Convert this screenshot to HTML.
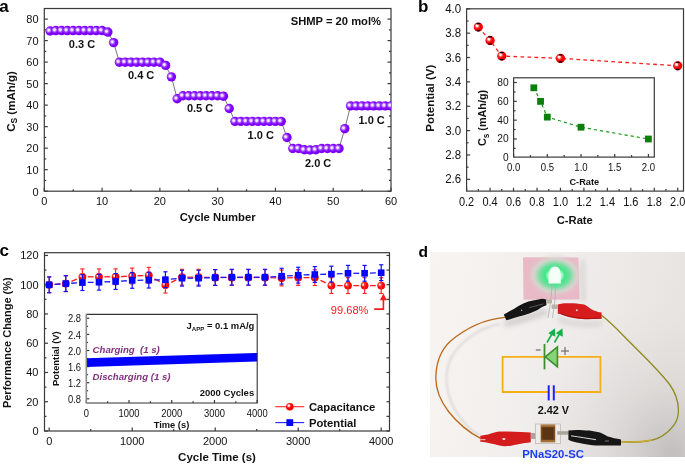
<!DOCTYPE html><html><head><meta charset="utf-8"><style>html,body{margin:0;padding:0;background:#fff;}svg{display:block;will-change:transform;font-family:"Liberation Sans",sans-serif;}</style></head><body>
<svg width="685" height="464" viewBox="0 0 685 464">
<defs><radialGradient id="gPurple" cx="0.37" cy="0.43" r="0.64" fx="0.35" fy="0.41"><stop offset="0" stop-color="#f8f0ff"/><stop offset="0.16" stop-color="#efdfff"/><stop offset="0.38" stop-color="#a048ff"/><stop offset="0.6" stop-color="#8000ff"/><stop offset="1" stop-color="#7800f4"/></radialGradient><radialGradient id="gRed" cx="0.38" cy="0.38" r="0.62" fx="0.36" fy="0.36"><stop offset="0" stop-color="#ffffff"/><stop offset="0.16" stop-color="#ffe8e8"/><stop offset="0.36" stop-color="#ff4040"/><stop offset="0.58" stop-color="#ff0000"/><stop offset="1" stop-color="#f00000"/></radialGradient><clipPath id="clipRB"><circle r="4.65"/></clipPath><g id="rbB"><circle r="4.65" fill="url(#gRed)"/><g clip-path="url(#clipRB)"><rect x="-1.9" y="-4.2" width="3.8" height="1.3" rx="0.6" fill="#000"/><rect x="-1.9" y="3.0" width="3.8" height="1.4" rx="0.6" fill="#000"/></g></g><linearGradient id="gPhoto" x1="0" y1="0" x2="1" y2="0.15"><stop offset="0" stop-color="#f8f4f1"/><stop offset="0.5" stop-color="#f0eeec"/><stop offset="1" stop-color="#e8e4e2"/></linearGradient><radialGradient id="gPhoto2" gradientUnits="userSpaceOnUse" cx="672" cy="452" r="150"><stop offset="0" stop-color="#bdbbb9" stop-opacity="0.9"/><stop offset="0.45" stop-color="#cfcdcb" stop-opacity="0.45"/><stop offset="1" stop-color="#dddbd9" stop-opacity="0"/></radialGradient><radialGradient id="gGlow" cx="0.5" cy="0.5" r="0.5"><stop offset="0" stop-color="#ffffff"/><stop offset="0.2" stop-color="#d8ffe8"/><stop offset="0.34" stop-color="#3fe888"/><stop offset="0.52" stop-color="#66e29a" stop-opacity="0.9"/><stop offset="0.75" stop-color="#cfe6d4" stop-opacity="0.55"/><stop offset="1" stop-color="#e8bac7" stop-opacity="0"/></radialGradient><filter id="fBlur1" x="-20%" y="-20%" width="140%" height="140%"><feGaussianBlur stdDeviation="0.8"/></filter><filter id="fBlur" x="-20%" y="-50%" width="140%" height="200%"><feGaussianBlur stdDeviation="2.5"/></filter><clipPath id="clipA"><rect x="44.3" y="8.5" width="346.7" height="182.7"/></clipPath></defs>
<rect width="685" height="464" fill="#fff"/>
<line x1="44.3" y1="191.2" x2="47.8" y2="191.2" stroke="#3a3a3a" stroke-width="1.2" />
<line x1="391" y1="191.2" x2="387.5" y2="191.2" stroke="#3a3a3a" stroke-width="1.2" />
<line x1="44.3" y1="180.44" x2="46.3" y2="180.44" stroke="#3a3a3a" stroke-width="1.2" />
<line x1="391" y1="180.44" x2="389" y2="180.44" stroke="#3a3a3a" stroke-width="1.2" />
<line x1="44.3" y1="169.69" x2="47.8" y2="169.69" stroke="#3a3a3a" stroke-width="1.2" />
<line x1="391" y1="169.69" x2="387.5" y2="169.69" stroke="#3a3a3a" stroke-width="1.2" />
<line x1="44.3" y1="158.93" x2="46.3" y2="158.93" stroke="#3a3a3a" stroke-width="1.2" />
<line x1="391" y1="158.93" x2="389" y2="158.93" stroke="#3a3a3a" stroke-width="1.2" />
<line x1="44.3" y1="148.17" x2="47.8" y2="148.17" stroke="#3a3a3a" stroke-width="1.2" />
<line x1="391" y1="148.17" x2="387.5" y2="148.17" stroke="#3a3a3a" stroke-width="1.2" />
<line x1="44.3" y1="137.41" x2="46.3" y2="137.41" stroke="#3a3a3a" stroke-width="1.2" />
<line x1="391" y1="137.41" x2="389" y2="137.41" stroke="#3a3a3a" stroke-width="1.2" />
<line x1="44.3" y1="126.65" x2="47.8" y2="126.65" stroke="#3a3a3a" stroke-width="1.2" />
<line x1="391" y1="126.65" x2="387.5" y2="126.65" stroke="#3a3a3a" stroke-width="1.2" />
<line x1="44.3" y1="115.9" x2="46.3" y2="115.9" stroke="#3a3a3a" stroke-width="1.2" />
<line x1="391" y1="115.9" x2="389" y2="115.9" stroke="#3a3a3a" stroke-width="1.2" />
<line x1="44.3" y1="105.14" x2="47.8" y2="105.14" stroke="#3a3a3a" stroke-width="1.2" />
<line x1="391" y1="105.14" x2="387.5" y2="105.14" stroke="#3a3a3a" stroke-width="1.2" />
<line x1="44.3" y1="94.38" x2="46.3" y2="94.38" stroke="#3a3a3a" stroke-width="1.2" />
<line x1="391" y1="94.38" x2="389" y2="94.38" stroke="#3a3a3a" stroke-width="1.2" />
<line x1="44.3" y1="83.62" x2="47.8" y2="83.62" stroke="#3a3a3a" stroke-width="1.2" />
<line x1="391" y1="83.62" x2="387.5" y2="83.62" stroke="#3a3a3a" stroke-width="1.2" />
<line x1="44.3" y1="72.87" x2="46.3" y2="72.87" stroke="#3a3a3a" stroke-width="1.2" />
<line x1="391" y1="72.87" x2="389" y2="72.87" stroke="#3a3a3a" stroke-width="1.2" />
<line x1="44.3" y1="62.11" x2="47.8" y2="62.11" stroke="#3a3a3a" stroke-width="1.2" />
<line x1="391" y1="62.11" x2="387.5" y2="62.11" stroke="#3a3a3a" stroke-width="1.2" />
<line x1="44.3" y1="51.35" x2="46.3" y2="51.35" stroke="#3a3a3a" stroke-width="1.2" />
<line x1="391" y1="51.35" x2="389" y2="51.35" stroke="#3a3a3a" stroke-width="1.2" />
<line x1="44.3" y1="40.59" x2="47.8" y2="40.59" stroke="#3a3a3a" stroke-width="1.2" />
<line x1="391" y1="40.59" x2="387.5" y2="40.59" stroke="#3a3a3a" stroke-width="1.2" />
<line x1="44.3" y1="29.84" x2="46.3" y2="29.84" stroke="#3a3a3a" stroke-width="1.2" />
<line x1="391" y1="29.84" x2="389" y2="29.84" stroke="#3a3a3a" stroke-width="1.2" />
<line x1="44.3" y1="19.08" x2="47.8" y2="19.08" stroke="#3a3a3a" stroke-width="1.2" />
<line x1="391" y1="19.08" x2="387.5" y2="19.08" stroke="#3a3a3a" stroke-width="1.2" />
<line x1="44.3" y1="191.2" x2="44.3" y2="187.7" stroke="#3a3a3a" stroke-width="1.2" />
<line x1="73.19" y1="191.2" x2="73.19" y2="189.2" stroke="#3a3a3a" stroke-width="1.2" />
<line x1="102.08" y1="191.2" x2="102.08" y2="187.7" stroke="#3a3a3a" stroke-width="1.2" />
<line x1="130.97" y1="191.2" x2="130.97" y2="189.2" stroke="#3a3a3a" stroke-width="1.2" />
<line x1="159.87" y1="191.2" x2="159.87" y2="187.7" stroke="#3a3a3a" stroke-width="1.2" />
<line x1="188.76" y1="191.2" x2="188.76" y2="189.2" stroke="#3a3a3a" stroke-width="1.2" />
<line x1="217.65" y1="191.2" x2="217.65" y2="187.7" stroke="#3a3a3a" stroke-width="1.2" />
<line x1="246.54" y1="191.2" x2="246.54" y2="189.2" stroke="#3a3a3a" stroke-width="1.2" />
<line x1="275.43" y1="191.2" x2="275.43" y2="187.7" stroke="#3a3a3a" stroke-width="1.2" />
<line x1="304.32" y1="191.2" x2="304.32" y2="189.2" stroke="#3a3a3a" stroke-width="1.2" />
<line x1="333.22" y1="191.2" x2="333.22" y2="187.7" stroke="#3a3a3a" stroke-width="1.2" />
<line x1="362.11" y1="191.2" x2="362.11" y2="189.2" stroke="#3a3a3a" stroke-width="1.2" />
<line x1="391" y1="191.2" x2="391" y2="187.7" stroke="#3a3a3a" stroke-width="1.2" />
<rect x="44.3" y="8.5" width="346.7" height="182.7" fill="none" stroke="#3a3a3a" stroke-width="1.2"/>
<text transform="translate(38.5,195.5) scale(1,1.05)" font-size="11" text-anchor="end" font-weight="normal" fill="#111" >0</text>
<text transform="translate(38.5,173.99) scale(1,1.05)" font-size="11" text-anchor="end" font-weight="normal" fill="#111" >10</text>
<text transform="translate(38.5,152.47) scale(1,1.05)" font-size="11" text-anchor="end" font-weight="normal" fill="#111" >20</text>
<text transform="translate(38.5,130.95) scale(1,1.05)" font-size="11" text-anchor="end" font-weight="normal" fill="#111" >30</text>
<text transform="translate(38.5,109.44) scale(1,1.05)" font-size="11" text-anchor="end" font-weight="normal" fill="#111" >40</text>
<text transform="translate(38.5,87.92) scale(1,1.05)" font-size="11" text-anchor="end" font-weight="normal" fill="#111" >50</text>
<text transform="translate(38.5,66.41) scale(1,1.05)" font-size="11" text-anchor="end" font-weight="normal" fill="#111" >60</text>
<text transform="translate(38.5,44.89) scale(1,1.05)" font-size="11" text-anchor="end" font-weight="normal" fill="#111" >70</text>
<text transform="translate(38.5,23.38) scale(1,1.05)" font-size="11" text-anchor="end" font-weight="normal" fill="#111" >80</text>
<text transform="translate(44.3,204.8) scale(1,1.06)" font-size="11" text-anchor="middle" font-weight="normal" fill="#111" >0</text>
<text transform="translate(102.08,204.8) scale(1,1.06)" font-size="11" text-anchor="middle" font-weight="normal" fill="#111" >10</text>
<text transform="translate(159.87,204.8) scale(1,1.06)" font-size="11" text-anchor="middle" font-weight="normal" fill="#111" >20</text>
<text transform="translate(217.65,204.8) scale(1,1.06)" font-size="11" text-anchor="middle" font-weight="normal" fill="#111" >30</text>
<text transform="translate(275.43,204.8) scale(1,1.06)" font-size="11" text-anchor="middle" font-weight="normal" fill="#111" >40</text>
<text transform="translate(333.22,204.8) scale(1,1.06)" font-size="11" text-anchor="middle" font-weight="normal" fill="#111" >50</text>
<text transform="translate(391,204.8) scale(1,1.06)" font-size="11" text-anchor="middle" font-weight="normal" fill="#111" >60</text>
<text x="217.7" y="221" font-size="11.3" text-anchor="middle" font-weight="bold" fill="#111" >Cycle Number</text>
<text transform="translate(14.9,101.5) rotate(-90)" font-size="11.5" font-weight="bold" text-anchor="middle" fill="#111">C<tspan font-size="8.5" dy="2.5">S</tspan><tspan dy="-2.5"> (mAh/g)</tspan></text>
<polyline fill="none" stroke="#555" stroke-width="0.8" points="50.08,31 55.86,30.57 61.63,30.57 67.41,30.57 73.19,30.57 78.97,30.57 84.75,30.57 90.53,30.57 96.3,30.57 102.08,30.57 107.86,32.07 113.64,42.62 119.42,62.19 125.2,62.19 130.97,62.19 136.75,62.19 142.53,62.19 148.31,62.19 154.09,62.19 159.87,62.19 165.64,65.42 171.42,76.83 177.2,98.77 182.98,95.76 188.76,95.76 194.54,95.76 200.31,95.76 206.09,95.76 211.87,95.76 217.65,95.76 223.43,96.19 229.21,108.45 234.99,121.36 240.76,121.36 246.54,121.36 252.32,121.36 258.1,121.36 263.88,121.36 269.65,121.36 275.43,121.36 281.21,121.36 286.99,137.5 292.77,148.47 298.55,148.47 304.32,149.76 310.1,149.98 315.88,149.76 321.66,148.47 327.44,148.47 333.22,148.47 339,148.47 344.77,128.68 350.55,105.87 356.33,105.87 362.11,105.87 367.89,105.87 373.66,105.87 379.44,105.87 385.22,105.87 391,105.87"/>
<g clip-path="url(#clipA)">
<circle cx="50.08" cy="31" r="4.7" fill="url(#gPurple)"/>
<circle cx="55.86" cy="30.57" r="4.7" fill="url(#gPurple)"/>
<circle cx="61.63" cy="30.57" r="4.7" fill="url(#gPurple)"/>
<circle cx="67.41" cy="30.57" r="4.7" fill="url(#gPurple)"/>
<circle cx="73.19" cy="30.57" r="4.7" fill="url(#gPurple)"/>
<circle cx="78.97" cy="30.57" r="4.7" fill="url(#gPurple)"/>
<circle cx="84.75" cy="30.57" r="4.7" fill="url(#gPurple)"/>
<circle cx="90.53" cy="30.57" r="4.7" fill="url(#gPurple)"/>
<circle cx="96.3" cy="30.57" r="4.7" fill="url(#gPurple)"/>
<circle cx="102.08" cy="30.57" r="4.7" fill="url(#gPurple)"/>
<circle cx="107.86" cy="32.07" r="4.7" fill="url(#gPurple)"/>
<circle cx="113.64" cy="42.62" r="4.7" fill="url(#gPurple)"/>
<circle cx="119.42" cy="62.19" r="4.7" fill="url(#gPurple)"/>
<circle cx="125.2" cy="62.19" r="4.7" fill="url(#gPurple)"/>
<circle cx="130.97" cy="62.19" r="4.7" fill="url(#gPurple)"/>
<circle cx="136.75" cy="62.19" r="4.7" fill="url(#gPurple)"/>
<circle cx="142.53" cy="62.19" r="4.7" fill="url(#gPurple)"/>
<circle cx="148.31" cy="62.19" r="4.7" fill="url(#gPurple)"/>
<circle cx="154.09" cy="62.19" r="4.7" fill="url(#gPurple)"/>
<circle cx="159.87" cy="62.19" r="4.7" fill="url(#gPurple)"/>
<circle cx="165.64" cy="65.42" r="4.7" fill="url(#gPurple)"/>
<circle cx="171.42" cy="76.83" r="4.7" fill="url(#gPurple)"/>
<circle cx="177.2" cy="98.77" r="4.7" fill="url(#gPurple)"/>
<circle cx="182.98" cy="95.76" r="4.7" fill="url(#gPurple)"/>
<circle cx="188.76" cy="95.76" r="4.7" fill="url(#gPurple)"/>
<circle cx="194.54" cy="95.76" r="4.7" fill="url(#gPurple)"/>
<circle cx="200.31" cy="95.76" r="4.7" fill="url(#gPurple)"/>
<circle cx="206.09" cy="95.76" r="4.7" fill="url(#gPurple)"/>
<circle cx="211.87" cy="95.76" r="4.7" fill="url(#gPurple)"/>
<circle cx="217.65" cy="95.76" r="4.7" fill="url(#gPurple)"/>
<circle cx="223.43" cy="96.19" r="4.7" fill="url(#gPurple)"/>
<circle cx="229.21" cy="108.45" r="4.7" fill="url(#gPurple)"/>
<circle cx="234.99" cy="121.36" r="4.7" fill="url(#gPurple)"/>
<circle cx="240.76" cy="121.36" r="4.7" fill="url(#gPurple)"/>
<circle cx="246.54" cy="121.36" r="4.7" fill="url(#gPurple)"/>
<circle cx="252.32" cy="121.36" r="4.7" fill="url(#gPurple)"/>
<circle cx="258.1" cy="121.36" r="4.7" fill="url(#gPurple)"/>
<circle cx="263.88" cy="121.36" r="4.7" fill="url(#gPurple)"/>
<circle cx="269.65" cy="121.36" r="4.7" fill="url(#gPurple)"/>
<circle cx="275.43" cy="121.36" r="4.7" fill="url(#gPurple)"/>
<circle cx="281.21" cy="121.36" r="4.7" fill="url(#gPurple)"/>
<circle cx="286.99" cy="137.5" r="4.7" fill="url(#gPurple)"/>
<circle cx="292.77" cy="148.47" r="4.7" fill="url(#gPurple)"/>
<circle cx="298.55" cy="148.47" r="4.7" fill="url(#gPurple)"/>
<circle cx="304.32" cy="149.76" r="4.7" fill="url(#gPurple)"/>
<circle cx="310.1" cy="149.98" r="4.7" fill="url(#gPurple)"/>
<circle cx="315.88" cy="149.76" r="4.7" fill="url(#gPurple)"/>
<circle cx="321.66" cy="148.47" r="4.7" fill="url(#gPurple)"/>
<circle cx="327.44" cy="148.47" r="4.7" fill="url(#gPurple)"/>
<circle cx="333.22" cy="148.47" r="4.7" fill="url(#gPurple)"/>
<circle cx="339" cy="148.47" r="4.7" fill="url(#gPurple)"/>
<circle cx="344.77" cy="128.68" r="4.7" fill="url(#gPurple)"/>
<circle cx="350.55" cy="105.87" r="4.7" fill="url(#gPurple)"/>
<circle cx="356.33" cy="105.87" r="4.7" fill="url(#gPurple)"/>
<circle cx="362.11" cy="105.87" r="4.7" fill="url(#gPurple)"/>
<circle cx="367.89" cy="105.87" r="4.7" fill="url(#gPurple)"/>
<circle cx="373.66" cy="105.87" r="4.7" fill="url(#gPurple)"/>
<circle cx="379.44" cy="105.87" r="4.7" fill="url(#gPurple)"/>
<circle cx="385.22" cy="105.87" r="4.7" fill="url(#gPurple)"/>
<circle cx="391" cy="105.87" r="4.7" fill="url(#gPurple)"/>
</g>
<text x="68.8" y="47.8" font-size="11" text-anchor="start" font-weight="bold" fill="#111" >0.3 C</text>
<text x="128" y="79" font-size="11" text-anchor="start" font-weight="bold" fill="#111" >0.4 C</text>
<text x="186.9" y="112.3" font-size="11" text-anchor="start" font-weight="bold" fill="#111" >0.5 C</text>
<text x="247.6" y="139.1" font-size="11" text-anchor="start" font-weight="bold" fill="#111" >1.0 C</text>
<text x="305" y="167.4" font-size="11" text-anchor="start" font-weight="bold" fill="#111" >2.0 C</text>
<text x="358.5" y="123.7" font-size="11" text-anchor="start" font-weight="bold" fill="#111" >1.0 C</text>
<text x="381" y="24.8" font-size="11.2" text-anchor="end" font-weight="bold" fill="#111" >SHMP = 20 mol%</text>
<text x="-0.8" y="11.5" font-size="17" text-anchor="start" font-weight="bold" fill="#000" >a</text>
<line x1="466.6" y1="179.32" x2="470.1" y2="179.32" stroke="#3a3a3a" stroke-width="1.2" />
<line x1="466.6" y1="167.14" x2="468.6" y2="167.14" stroke="#3a3a3a" stroke-width="1.2" />
<line x1="466.6" y1="154.96" x2="470.1" y2="154.96" stroke="#3a3a3a" stroke-width="1.2" />
<line x1="466.6" y1="142.78" x2="468.6" y2="142.78" stroke="#3a3a3a" stroke-width="1.2" />
<line x1="466.6" y1="130.6" x2="470.1" y2="130.6" stroke="#3a3a3a" stroke-width="1.2" />
<line x1="466.6" y1="118.42" x2="468.6" y2="118.42" stroke="#3a3a3a" stroke-width="1.2" />
<line x1="466.6" y1="106.24" x2="470.1" y2="106.24" stroke="#3a3a3a" stroke-width="1.2" />
<line x1="466.6" y1="94.06" x2="468.6" y2="94.06" stroke="#3a3a3a" stroke-width="1.2" />
<line x1="466.6" y1="81.88" x2="470.1" y2="81.88" stroke="#3a3a3a" stroke-width="1.2" />
<line x1="466.6" y1="69.7" x2="468.6" y2="69.7" stroke="#3a3a3a" stroke-width="1.2" />
<line x1="466.6" y1="57.52" x2="470.1" y2="57.52" stroke="#3a3a3a" stroke-width="1.2" />
<line x1="466.6" y1="45.34" x2="468.6" y2="45.34" stroke="#3a3a3a" stroke-width="1.2" />
<line x1="466.6" y1="33.16" x2="470.1" y2="33.16" stroke="#3a3a3a" stroke-width="1.2" />
<line x1="466.6" y1="20.98" x2="468.6" y2="20.98" stroke="#3a3a3a" stroke-width="1.2" />
<line x1="466.6" y1="8.8" x2="470.1" y2="8.8" stroke="#3a3a3a" stroke-width="1.2" />
<line x1="466.6" y1="191.1" x2="466.6" y2="187.8" stroke="#3a3a3a" stroke-width="1.2" />
<line x1="478.33" y1="191.1" x2="478.33" y2="189.1" stroke="#3a3a3a" stroke-width="1.2" />
<line x1="490.06" y1="191.1" x2="490.06" y2="187.8" stroke="#3a3a3a" stroke-width="1.2" />
<line x1="501.79" y1="191.1" x2="501.79" y2="189.1" stroke="#3a3a3a" stroke-width="1.2" />
<line x1="513.52" y1="191.1" x2="513.52" y2="187.8" stroke="#3a3a3a" stroke-width="1.2" />
<line x1="525.25" y1="191.1" x2="525.25" y2="189.1" stroke="#3a3a3a" stroke-width="1.2" />
<line x1="536.98" y1="191.1" x2="536.98" y2="187.8" stroke="#3a3a3a" stroke-width="1.2" />
<line x1="548.71" y1="191.1" x2="548.71" y2="189.1" stroke="#3a3a3a" stroke-width="1.2" />
<line x1="560.44" y1="191.1" x2="560.44" y2="187.8" stroke="#3a3a3a" stroke-width="1.2" />
<line x1="572.17" y1="191.1" x2="572.17" y2="189.1" stroke="#3a3a3a" stroke-width="1.2" />
<line x1="583.9" y1="191.1" x2="583.9" y2="187.8" stroke="#3a3a3a" stroke-width="1.2" />
<line x1="595.63" y1="191.1" x2="595.63" y2="189.1" stroke="#3a3a3a" stroke-width="1.2" />
<line x1="607.36" y1="191.1" x2="607.36" y2="187.8" stroke="#3a3a3a" stroke-width="1.2" />
<line x1="619.09" y1="191.1" x2="619.09" y2="189.1" stroke="#3a3a3a" stroke-width="1.2" />
<line x1="630.82" y1="191.1" x2="630.82" y2="187.8" stroke="#3a3a3a" stroke-width="1.2" />
<line x1="642.55" y1="191.1" x2="642.55" y2="189.1" stroke="#3a3a3a" stroke-width="1.2" />
<line x1="654.28" y1="191.1" x2="654.28" y2="187.8" stroke="#3a3a3a" stroke-width="1.2" />
<line x1="666.01" y1="191.1" x2="666.01" y2="189.1" stroke="#3a3a3a" stroke-width="1.2" />
<line x1="677.74" y1="191.1" x2="677.74" y2="187.8" stroke="#3a3a3a" stroke-width="1.2" />
<rect x="466.6" y="8.8" width="216.9" height="182.3" fill="none" stroke="#3a3a3a" stroke-width="1.2"/>
<text transform="translate(461.2,183.42) scale(1,1.04)" font-size="11.5" text-anchor="end" font-weight="normal" fill="#111" >2.6</text>
<text transform="translate(461.2,159.06) scale(1,1.04)" font-size="11.5" text-anchor="end" font-weight="normal" fill="#111" >2.8</text>
<text transform="translate(461.2,134.7) scale(1,1.04)" font-size="11.5" text-anchor="end" font-weight="normal" fill="#111" >3.0</text>
<text transform="translate(461.2,110.34) scale(1,1.04)" font-size="11.5" text-anchor="end" font-weight="normal" fill="#111" >3.2</text>
<text transform="translate(461.2,85.98) scale(1,1.04)" font-size="11.5" text-anchor="end" font-weight="normal" fill="#111" >3.4</text>
<text transform="translate(461.2,61.62) scale(1,1.04)" font-size="11.5" text-anchor="end" font-weight="normal" fill="#111" >3.6</text>
<text transform="translate(461.2,37.26) scale(1,1.04)" font-size="11.5" text-anchor="end" font-weight="normal" fill="#111" >3.8</text>
<text transform="translate(461.2,12.9) scale(1,1.04)" font-size="11.5" text-anchor="end" font-weight="normal" fill="#111" >4.0</text>
<text transform="translate(466.6,205.6) scale(1,1.1)" font-size="11" text-anchor="middle" font-weight="normal" fill="#111" >0.2</text>
<text transform="translate(490.06,205.6) scale(1,1.1)" font-size="11" text-anchor="middle" font-weight="normal" fill="#111" >0.4</text>
<text transform="translate(513.52,205.6) scale(1,1.1)" font-size="11" text-anchor="middle" font-weight="normal" fill="#111" >0.6</text>
<text transform="translate(536.98,205.6) scale(1,1.1)" font-size="11" text-anchor="middle" font-weight="normal" fill="#111" >0.8</text>
<text transform="translate(560.44,205.6) scale(1,1.1)" font-size="11" text-anchor="middle" font-weight="normal" fill="#111" >1.0</text>
<text transform="translate(583.9,205.6) scale(1,1.1)" font-size="11" text-anchor="middle" font-weight="normal" fill="#111" >1.2</text>
<text transform="translate(607.36,205.6) scale(1,1.1)" font-size="11" text-anchor="middle" font-weight="normal" fill="#111" >1.4</text>
<text transform="translate(630.82,205.6) scale(1,1.1)" font-size="11" text-anchor="middle" font-weight="normal" fill="#111" >1.6</text>
<text transform="translate(654.28,205.6) scale(1,1.1)" font-size="11" text-anchor="middle" font-weight="normal" fill="#111" >1.8</text>
<text transform="translate(677.74,205.6) scale(1,1.1)" font-size="11" text-anchor="middle" font-weight="normal" fill="#111" >2.0</text>
<text x="574.8" y="224" font-size="11.2" text-anchor="middle" font-weight="bold" fill="#111" >C-Rate</text>
<text transform="translate(434.2,98.2) rotate(-90)" font-size="11.5" font-weight="bold" text-anchor="middle" fill="#111">Potential (V)</text>
<text x="418.1" y="11.5" font-size="17" text-anchor="start" font-weight="bold" fill="#000" >b</text>
<polyline fill="none" stroke="#ff1a1a" stroke-width="1.3" stroke-dasharray="3.7 3.3" points="478.33,27.07 490.06,40.47 501.79,56.06 560.44,58.37 677.74,65.8"/>
<use href="#rbB" x="478.33" y="27.07"/>
<use href="#rbB" x="490.06" y="40.47"/>
<use href="#rbB" x="501.79" y="56.06"/>
<use href="#rbB" x="560.44" y="58.37"/>
<use href="#rbB" x="677.74" y="65.8"/>
<rect x="513.6" y="77.8" width="140.7" height="79.3" fill="#fff" stroke="none"/>
<line x1="513.6" y1="148.39" x2="515.6" y2="148.39" stroke="#3a3a3a" stroke-width="1.2" />
<line x1="513.6" y1="138.98" x2="516.8" y2="138.98" stroke="#3a3a3a" stroke-width="1.2" />
<line x1="513.6" y1="129.57" x2="515.6" y2="129.57" stroke="#3a3a3a" stroke-width="1.2" />
<line x1="513.6" y1="120.16" x2="516.8" y2="120.16" stroke="#3a3a3a" stroke-width="1.2" />
<line x1="513.6" y1="110.75" x2="515.6" y2="110.75" stroke="#3a3a3a" stroke-width="1.2" />
<line x1="513.6" y1="101.34" x2="516.8" y2="101.34" stroke="#3a3a3a" stroke-width="1.2" />
<line x1="513.6" y1="91.93" x2="515.6" y2="91.93" stroke="#3a3a3a" stroke-width="1.2" />
<line x1="513.6" y1="82.52" x2="516.8" y2="82.52" stroke="#3a3a3a" stroke-width="1.2" />
<line x1="513.6" y1="157.1" x2="513.6" y2="153.9" stroke="#3a3a3a" stroke-width="1.2" />
<line x1="530.45" y1="157.1" x2="530.45" y2="155.1" stroke="#3a3a3a" stroke-width="1.2" />
<line x1="547.3" y1="157.1" x2="547.3" y2="153.9" stroke="#3a3a3a" stroke-width="1.2" />
<line x1="564.15" y1="157.1" x2="564.15" y2="155.1" stroke="#3a3a3a" stroke-width="1.2" />
<line x1="581" y1="157.1" x2="581" y2="153.9" stroke="#3a3a3a" stroke-width="1.2" />
<line x1="597.85" y1="157.1" x2="597.85" y2="155.1" stroke="#3a3a3a" stroke-width="1.2" />
<line x1="614.7" y1="157.1" x2="614.7" y2="153.9" stroke="#3a3a3a" stroke-width="1.2" />
<line x1="631.55" y1="157.1" x2="631.55" y2="155.1" stroke="#3a3a3a" stroke-width="1.2" />
<line x1="648.4" y1="157.1" x2="648.4" y2="153.9" stroke="#3a3a3a" stroke-width="1.2" />
<rect x="513.6" y="77.8" width="140.7" height="79.3" fill="none" stroke="#3a3a3a" stroke-width="1.2"/>
<text transform="translate(508.6,161.3) scale(1,1.12)" font-size="10.2" text-anchor="end" font-weight="normal" fill="#111" >0</text>
<text transform="translate(508.6,142.48) scale(1,1.12)" font-size="10.2" text-anchor="end" font-weight="normal" fill="#111" >20</text>
<text transform="translate(508.6,123.66) scale(1,1.12)" font-size="10.2" text-anchor="end" font-weight="normal" fill="#111" >40</text>
<text transform="translate(508.6,104.84) scale(1,1.12)" font-size="10.2" text-anchor="end" font-weight="normal" fill="#111" >60</text>
<text transform="translate(508.6,86.02) scale(1,1.12)" font-size="10.2" text-anchor="end" font-weight="normal" fill="#111" >80</text>
<text transform="translate(513.6,171.4) scale(1,1.14)" font-size="9.6" text-anchor="middle" font-weight="normal" fill="#111" >0.0</text>
<text transform="translate(547.3,171.4) scale(1,1.14)" font-size="9.6" text-anchor="middle" font-weight="normal" fill="#111" >0.5</text>
<text transform="translate(581,171.4) scale(1,1.14)" font-size="9.6" text-anchor="middle" font-weight="normal" fill="#111" >1.0</text>
<text transform="translate(614.7,171.4) scale(1,1.14)" font-size="9.6" text-anchor="middle" font-weight="normal" fill="#111" >1.5</text>
<text transform="translate(648.4,171.4) scale(1,1.14)" font-size="9.6" text-anchor="middle" font-weight="normal" fill="#111" >2.0</text>
<text x="584.3" y="185.3" font-size="9.2" text-anchor="middle" font-weight="bold" fill="#111" >C-Rate</text>
<text transform="translate(486.3,118) rotate(-90)" font-size="10.8" font-weight="bold" text-anchor="middle" fill="#111">C<tspan font-size="8.2" dy="2.4">s</tspan><tspan dy="-2.4"> (mAh/g)</tspan></text>
<polyline fill="none" stroke="#1a9a1a" stroke-width="1.2" stroke-dasharray="3.2 3" points="533.82,87.8 540.56,101.4 547.3,117.1 581,127.2 648.4,139"/>
<rect x="530.42" y="84.4" width="6.8" height="6.8" fill="#0a800a"/>
<rect x="537.16" y="98" width="6.8" height="6.8" fill="#0a800a"/>
<rect x="543.9" y="113.7" width="6.8" height="6.8" fill="#0a800a"/>
<rect x="577.6" y="123.8" width="6.8" height="6.8" fill="#0a800a"/>
<rect x="645" y="135.6" width="6.8" height="6.8" fill="#0a800a"/>
<line x1="44.5" y1="431" x2="48" y2="431" stroke="#3a3a3a" stroke-width="1.2" />
<line x1="389.5" y1="431" x2="386.5" y2="431" stroke="#3a3a3a" stroke-width="1.2" />
<line x1="44.5" y1="416.37" x2="46.5" y2="416.37" stroke="#3a3a3a" stroke-width="1.2" />
<line x1="389.5" y1="416.37" x2="386.5" y2="416.37" stroke="#3a3a3a" stroke-width="1.2" />
<line x1="44.5" y1="401.74" x2="48" y2="401.74" stroke="#3a3a3a" stroke-width="1.2" />
<line x1="389.5" y1="401.74" x2="386.5" y2="401.74" stroke="#3a3a3a" stroke-width="1.2" />
<line x1="44.5" y1="387.11" x2="46.5" y2="387.11" stroke="#3a3a3a" stroke-width="1.2" />
<line x1="389.5" y1="387.11" x2="386.5" y2="387.11" stroke="#3a3a3a" stroke-width="1.2" />
<line x1="44.5" y1="372.48" x2="48" y2="372.48" stroke="#3a3a3a" stroke-width="1.2" />
<line x1="389.5" y1="372.48" x2="386.5" y2="372.48" stroke="#3a3a3a" stroke-width="1.2" />
<line x1="44.5" y1="357.85" x2="46.5" y2="357.85" stroke="#3a3a3a" stroke-width="1.2" />
<line x1="389.5" y1="357.85" x2="386.5" y2="357.85" stroke="#3a3a3a" stroke-width="1.2" />
<line x1="44.5" y1="343.22" x2="48" y2="343.22" stroke="#3a3a3a" stroke-width="1.2" />
<line x1="389.5" y1="343.22" x2="386.5" y2="343.22" stroke="#3a3a3a" stroke-width="1.2" />
<line x1="44.5" y1="328.59" x2="46.5" y2="328.59" stroke="#3a3a3a" stroke-width="1.2" />
<line x1="389.5" y1="328.59" x2="386.5" y2="328.59" stroke="#3a3a3a" stroke-width="1.2" />
<line x1="44.5" y1="313.96" x2="48" y2="313.96" stroke="#3a3a3a" stroke-width="1.2" />
<line x1="389.5" y1="313.96" x2="386.5" y2="313.96" stroke="#3a3a3a" stroke-width="1.2" />
<line x1="44.5" y1="299.33" x2="46.5" y2="299.33" stroke="#3a3a3a" stroke-width="1.2" />
<line x1="389.5" y1="299.33" x2="386.5" y2="299.33" stroke="#3a3a3a" stroke-width="1.2" />
<line x1="44.5" y1="284.7" x2="48" y2="284.7" stroke="#3a3a3a" stroke-width="1.2" />
<line x1="389.5" y1="284.7" x2="386.5" y2="284.7" stroke="#3a3a3a" stroke-width="1.2" />
<line x1="44.5" y1="270.07" x2="46.5" y2="270.07" stroke="#3a3a3a" stroke-width="1.2" />
<line x1="389.5" y1="270.07" x2="386.5" y2="270.07" stroke="#3a3a3a" stroke-width="1.2" />
<line x1="44.5" y1="255.44" x2="48" y2="255.44" stroke="#3a3a3a" stroke-width="1.2" />
<line x1="389.5" y1="255.44" x2="386.5" y2="255.44" stroke="#3a3a3a" stroke-width="1.2" />
<line x1="49.2" y1="431" x2="49.2" y2="427.5" stroke="#3a3a3a" stroke-width="1.2" />
<line x1="90.7" y1="431" x2="90.7" y2="429" stroke="#3a3a3a" stroke-width="1.2" />
<line x1="132.2" y1="431" x2="132.2" y2="427.5" stroke="#3a3a3a" stroke-width="1.2" />
<line x1="173.7" y1="431" x2="173.7" y2="429" stroke="#3a3a3a" stroke-width="1.2" />
<line x1="215.2" y1="431" x2="215.2" y2="427.5" stroke="#3a3a3a" stroke-width="1.2" />
<line x1="256.7" y1="431" x2="256.7" y2="429" stroke="#3a3a3a" stroke-width="1.2" />
<line x1="298.2" y1="431" x2="298.2" y2="427.5" stroke="#3a3a3a" stroke-width="1.2" />
<line x1="339.7" y1="431" x2="339.7" y2="429" stroke="#3a3a3a" stroke-width="1.2" />
<line x1="381.2" y1="431" x2="381.2" y2="427.5" stroke="#3a3a3a" stroke-width="1.2" />
<rect x="44.5" y="252.7" width="345" height="178.3" fill="none" stroke="#3a3a3a" stroke-width="1.2"/>
<text x="38.5" y="435" font-size="11" text-anchor="end" font-weight="normal" fill="#111" >0</text>
<text x="38.5" y="405.74" font-size="11" text-anchor="end" font-weight="normal" fill="#111" >20</text>
<text x="38.5" y="376.48" font-size="11" text-anchor="end" font-weight="normal" fill="#111" >40</text>
<text x="38.5" y="347.22" font-size="11" text-anchor="end" font-weight="normal" fill="#111" >60</text>
<text x="38.5" y="317.96" font-size="11" text-anchor="end" font-weight="normal" fill="#111" >80</text>
<text x="38.5" y="288.7" font-size="11" text-anchor="end" font-weight="normal" fill="#111" >100</text>
<text x="38.5" y="259.44" font-size="11" text-anchor="end" font-weight="normal" fill="#111" >120</text>
<text x="49.2" y="445" font-size="11" text-anchor="middle" font-weight="normal" fill="#111" >0</text>
<text x="132.2" y="445" font-size="11" text-anchor="middle" font-weight="normal" fill="#111" >1000</text>
<text x="215.2" y="445" font-size="11" text-anchor="middle" font-weight="normal" fill="#111" >2000</text>
<text x="298.2" y="445" font-size="11" text-anchor="middle" font-weight="normal" fill="#111" >3000</text>
<text x="381.2" y="445" font-size="11" text-anchor="middle" font-weight="normal" fill="#111" >4000</text>
<text x="217" y="460.6" font-size="11.5" text-anchor="middle" font-weight="bold" fill="#111" >Cycle Time (s)</text>
<text transform="translate(11.2,342.7) rotate(-90)" font-size="11" font-weight="bold" text-anchor="middle" fill="#111">Performance Change (%)</text>
<text x="-0.6" y="255.8" font-size="17" text-anchor="start" font-weight="bold" fill="#000" >c</text>
<line x1="54.61" y1="284.41" x2="60.39" y2="283.99" stroke="#ff1818" stroke-width="1.3" />
<line x1="71.42" y1="281.3" x2="76.78" y2="279.1" stroke="#ff1818" stroke-width="1.3" />
<line x1="87.8" y1="276.8" x2="93.6" y2="276.8" stroke="#ff1818" stroke-width="1.3" />
<line x1="104.4" y1="276.8" x2="110.2" y2="276.8" stroke="#ff1818" stroke-width="1.3" />
<line x1="121" y1="276.54" x2="126.8" y2="276.26" stroke="#ff1818" stroke-width="1.3" />
<line x1="137.6" y1="275.77" x2="143.4" y2="275.53" stroke="#ff1818" stroke-width="1.3" />
<line x1="154.6" y1="278.73" x2="159.6" y2="281.67" stroke="#ff1818" stroke-width="1.3" />
<line x1="171.08" y1="282.4" x2="176.32" y2="279.9" stroke="#ff1818" stroke-width="1.3" />
<line x1="187.4" y1="277.2" x2="193.2" y2="277.2" stroke="#ff1818" stroke-width="1.3" />
<line x1="204" y1="277.3" x2="209.8" y2="277.4" stroke="#ff1818" stroke-width="1.3" />
<line x1="220.6" y1="277.5" x2="226.4" y2="277.5" stroke="#ff1818" stroke-width="1.3" />
<line x1="237.2" y1="277.5" x2="243" y2="277.5" stroke="#ff1818" stroke-width="1.3" />
<line x1="253.8" y1="277.5" x2="259.6" y2="277.5" stroke="#ff1818" stroke-width="1.3" />
<line x1="270.4" y1="277.66" x2="276.2" y2="277.84" stroke="#ff1818" stroke-width="1.3" />
<line x1="287" y1="277.84" x2="292.8" y2="277.66" stroke="#ff1818" stroke-width="1.3" />
<line x1="303.6" y1="277.53" x2="309.4" y2="277.57" stroke="#ff1818" stroke-width="1.3" />
<line x1="320.49" y1="280.34" x2="325.71" y2="282.86" stroke="#ff1818" stroke-width="1.3" />
<line x1="336.8" y1="285.6" x2="342.6" y2="285.6" stroke="#ff1818" stroke-width="1.3" />
<line x1="353.4" y1="285.6" x2="359.2" y2="285.6" stroke="#ff1818" stroke-width="1.3" />
<line x1="370" y1="285.6" x2="375.8" y2="285.6" stroke="#ff1818" stroke-width="1.3" />
<line x1="54.61" y1="284.41" x2="60.39" y2="283.99" stroke="#1818ff" stroke-width="1.3" />
<line x1="71.21" y1="283.27" x2="76.99" y2="282.93" stroke="#1818ff" stroke-width="1.3" />
<line x1="87.8" y1="282.47" x2="93.6" y2="282.33" stroke="#1818ff" stroke-width="1.3" />
<line x1="104.4" y1="281.97" x2="110.2" y2="281.73" stroke="#1818ff" stroke-width="1.3" />
<line x1="121.01" y1="281.14" x2="126.79" y2="280.76" stroke="#1818ff" stroke-width="1.3" />
<line x1="137.6" y1="280.3" x2="143.4" y2="280.2" stroke="#1818ff" stroke-width="1.3" />
<line x1="154.2" y1="279.97" x2="160" y2="279.83" stroke="#1818ff" stroke-width="1.3" />
<line x1="170.81" y1="279.21" x2="176.59" y2="278.69" stroke="#1818ff" stroke-width="1.3" />
<line x1="187.4" y1="278.2" x2="193.2" y2="278.2" stroke="#1818ff" stroke-width="1.3" />
<line x1="204" y1="277.97" x2="209.8" y2="277.73" stroke="#1818ff" stroke-width="1.3" />
<line x1="220.6" y1="277.4" x2="226.4" y2="277.3" stroke="#1818ff" stroke-width="1.3" />
<line x1="237.2" y1="277.2" x2="243" y2="277.2" stroke="#1818ff" stroke-width="1.3" />
<line x1="253.8" y1="277.2" x2="259.6" y2="277.2" stroke="#1818ff" stroke-width="1.3" />
<line x1="270.41" y1="276.87" x2="276.19" y2="276.53" stroke="#1818ff" stroke-width="1.3" />
<line x1="287.01" y1="275.87" x2="292.79" y2="275.53" stroke="#1818ff" stroke-width="1.3" />
<line x1="303.6" y1="274.97" x2="309.4" y2="274.73" stroke="#1818ff" stroke-width="1.3" />
<line x1="320.2" y1="274.37" x2="326" y2="274.23" stroke="#1818ff" stroke-width="1.3" />
<line x1="336.8" y1="273.84" x2="342.6" y2="273.56" stroke="#1818ff" stroke-width="1.3" />
<line x1="353.4" y1="273.3" x2="359.2" y2="273.3" stroke="#1818ff" stroke-width="1.3" />
<line x1="370" y1="273.1" x2="375.8" y2="272.9" stroke="#1818ff" stroke-width="1.3" />
<circle cx="49.2" cy="284.8" r="3.9" fill="url(#gRed)"/>
<circle cx="65.8" cy="283.6" r="3.9" fill="url(#gRed)"/>
<circle cx="82.4" cy="276.8" r="3.9" fill="url(#gRed)"/>
<circle cx="99" cy="276.8" r="3.9" fill="url(#gRed)"/>
<circle cx="115.6" cy="276.8" r="3.9" fill="url(#gRed)"/>
<circle cx="132.2" cy="276" r="3.9" fill="url(#gRed)"/>
<circle cx="148.8" cy="275.3" r="3.9" fill="url(#gRed)"/>
<circle cx="165.4" cy="285.1" r="3.9" fill="url(#gRed)"/>
<circle cx="182" cy="277.2" r="3.9" fill="url(#gRed)"/>
<circle cx="198.6" cy="277.2" r="3.9" fill="url(#gRed)"/>
<circle cx="215.2" cy="277.5" r="3.9" fill="url(#gRed)"/>
<circle cx="231.8" cy="277.5" r="3.9" fill="url(#gRed)"/>
<circle cx="248.4" cy="277.5" r="3.9" fill="url(#gRed)"/>
<circle cx="265" cy="277.5" r="3.9" fill="url(#gRed)"/>
<circle cx="281.6" cy="278" r="3.9" fill="url(#gRed)"/>
<circle cx="298.2" cy="277.5" r="3.9" fill="url(#gRed)"/>
<circle cx="314.8" cy="277.6" r="3.9" fill="url(#gRed)"/>
<circle cx="331.4" cy="285.6" r="3.9" fill="url(#gRed)"/>
<circle cx="348" cy="285.6" r="3.9" fill="url(#gRed)"/>
<circle cx="364.6" cy="285.6" r="3.9" fill="url(#gRed)"/>
<circle cx="381.2" cy="285.6" r="3.9" fill="url(#gRed)"/>
<line x1="49.2" y1="276.9" x2="49.2" y2="292.7" stroke="#ff2a2a" stroke-width="1.2" />
<line x1="47.1" y1="276.9" x2="51.3" y2="276.9" stroke="#ff2a2a" stroke-width="1.2" />
<line x1="47.1" y1="292.7" x2="51.3" y2="292.7" stroke="#ff2a2a" stroke-width="1.2" />
<line x1="65.8" y1="275.7" x2="65.8" y2="291.5" stroke="#ff2a2a" stroke-width="1.2" />
<line x1="63.7" y1="275.7" x2="67.9" y2="275.7" stroke="#ff2a2a" stroke-width="1.2" />
<line x1="63.7" y1="291.5" x2="67.9" y2="291.5" stroke="#ff2a2a" stroke-width="1.2" />
<line x1="82.4" y1="268.9" x2="82.4" y2="284.7" stroke="#ff2a2a" stroke-width="1.2" />
<line x1="80.3" y1="268.9" x2="84.5" y2="268.9" stroke="#ff2a2a" stroke-width="1.2" />
<line x1="80.3" y1="284.7" x2="84.5" y2="284.7" stroke="#ff2a2a" stroke-width="1.2" />
<line x1="99" y1="268.9" x2="99" y2="284.7" stroke="#ff2a2a" stroke-width="1.2" />
<line x1="96.9" y1="268.9" x2="101.1" y2="268.9" stroke="#ff2a2a" stroke-width="1.2" />
<line x1="96.9" y1="284.7" x2="101.1" y2="284.7" stroke="#ff2a2a" stroke-width="1.2" />
<line x1="115.6" y1="268.9" x2="115.6" y2="284.7" stroke="#ff2a2a" stroke-width="1.2" />
<line x1="113.5" y1="268.9" x2="117.7" y2="268.9" stroke="#ff2a2a" stroke-width="1.2" />
<line x1="113.5" y1="284.7" x2="117.7" y2="284.7" stroke="#ff2a2a" stroke-width="1.2" />
<line x1="132.2" y1="268.1" x2="132.2" y2="283.9" stroke="#ff2a2a" stroke-width="1.2" />
<line x1="130.1" y1="268.1" x2="134.3" y2="268.1" stroke="#ff2a2a" stroke-width="1.2" />
<line x1="130.1" y1="283.9" x2="134.3" y2="283.9" stroke="#ff2a2a" stroke-width="1.2" />
<line x1="148.8" y1="267.4" x2="148.8" y2="283.2" stroke="#ff2a2a" stroke-width="1.2" />
<line x1="146.7" y1="267.4" x2="150.9" y2="267.4" stroke="#ff2a2a" stroke-width="1.2" />
<line x1="146.7" y1="283.2" x2="150.9" y2="283.2" stroke="#ff2a2a" stroke-width="1.2" />
<line x1="165.4" y1="277.2" x2="165.4" y2="293" stroke="#ff2a2a" stroke-width="1.2" />
<line x1="163.3" y1="277.2" x2="167.5" y2="277.2" stroke="#ff2a2a" stroke-width="1.2" />
<line x1="163.3" y1="293" x2="167.5" y2="293" stroke="#ff2a2a" stroke-width="1.2" />
<line x1="182" y1="269.3" x2="182" y2="285.1" stroke="#ff2a2a" stroke-width="1.2" />
<line x1="179.9" y1="269.3" x2="184.1" y2="269.3" stroke="#ff2a2a" stroke-width="1.2" />
<line x1="179.9" y1="285.1" x2="184.1" y2="285.1" stroke="#ff2a2a" stroke-width="1.2" />
<line x1="198.6" y1="269.3" x2="198.6" y2="285.1" stroke="#ff2a2a" stroke-width="1.2" />
<line x1="196.5" y1="269.3" x2="200.7" y2="269.3" stroke="#ff2a2a" stroke-width="1.2" />
<line x1="196.5" y1="285.1" x2="200.7" y2="285.1" stroke="#ff2a2a" stroke-width="1.2" />
<line x1="215.2" y1="269.6" x2="215.2" y2="285.4" stroke="#ff2a2a" stroke-width="1.2" />
<line x1="213.1" y1="269.6" x2="217.3" y2="269.6" stroke="#ff2a2a" stroke-width="1.2" />
<line x1="213.1" y1="285.4" x2="217.3" y2="285.4" stroke="#ff2a2a" stroke-width="1.2" />
<line x1="231.8" y1="269.6" x2="231.8" y2="285.4" stroke="#ff2a2a" stroke-width="1.2" />
<line x1="229.7" y1="269.6" x2="233.9" y2="269.6" stroke="#ff2a2a" stroke-width="1.2" />
<line x1="229.7" y1="285.4" x2="233.9" y2="285.4" stroke="#ff2a2a" stroke-width="1.2" />
<line x1="248.4" y1="269.6" x2="248.4" y2="285.4" stroke="#ff2a2a" stroke-width="1.2" />
<line x1="246.3" y1="269.6" x2="250.5" y2="269.6" stroke="#ff2a2a" stroke-width="1.2" />
<line x1="246.3" y1="285.4" x2="250.5" y2="285.4" stroke="#ff2a2a" stroke-width="1.2" />
<line x1="265" y1="269.6" x2="265" y2="285.4" stroke="#ff2a2a" stroke-width="1.2" />
<line x1="262.9" y1="269.6" x2="267.1" y2="269.6" stroke="#ff2a2a" stroke-width="1.2" />
<line x1="262.9" y1="285.4" x2="267.1" y2="285.4" stroke="#ff2a2a" stroke-width="1.2" />
<line x1="281.6" y1="270.1" x2="281.6" y2="285.9" stroke="#ff2a2a" stroke-width="1.2" />
<line x1="279.5" y1="270.1" x2="283.7" y2="270.1" stroke="#ff2a2a" stroke-width="1.2" />
<line x1="279.5" y1="285.9" x2="283.7" y2="285.9" stroke="#ff2a2a" stroke-width="1.2" />
<line x1="298.2" y1="269.6" x2="298.2" y2="285.4" stroke="#ff2a2a" stroke-width="1.2" />
<line x1="296.1" y1="269.6" x2="300.3" y2="269.6" stroke="#ff2a2a" stroke-width="1.2" />
<line x1="296.1" y1="285.4" x2="300.3" y2="285.4" stroke="#ff2a2a" stroke-width="1.2" />
<line x1="314.8" y1="269.7" x2="314.8" y2="285.5" stroke="#ff2a2a" stroke-width="1.2" />
<line x1="312.7" y1="269.7" x2="316.9" y2="269.7" stroke="#ff2a2a" stroke-width="1.2" />
<line x1="312.7" y1="285.5" x2="316.9" y2="285.5" stroke="#ff2a2a" stroke-width="1.2" />
<line x1="331.4" y1="277.7" x2="331.4" y2="293.5" stroke="#ff2a2a" stroke-width="1.2" />
<line x1="329.3" y1="277.7" x2="333.5" y2="277.7" stroke="#ff2a2a" stroke-width="1.2" />
<line x1="329.3" y1="293.5" x2="333.5" y2="293.5" stroke="#ff2a2a" stroke-width="1.2" />
<line x1="348" y1="277.7" x2="348" y2="293.5" stroke="#ff2a2a" stroke-width="1.2" />
<line x1="345.9" y1="277.7" x2="350.1" y2="277.7" stroke="#ff2a2a" stroke-width="1.2" />
<line x1="345.9" y1="293.5" x2="350.1" y2="293.5" stroke="#ff2a2a" stroke-width="1.2" />
<line x1="364.6" y1="277.7" x2="364.6" y2="293.5" stroke="#ff2a2a" stroke-width="1.2" />
<line x1="362.5" y1="277.7" x2="366.7" y2="277.7" stroke="#ff2a2a" stroke-width="1.2" />
<line x1="362.5" y1="293.5" x2="366.7" y2="293.5" stroke="#ff2a2a" stroke-width="1.2" />
<line x1="381.2" y1="277.7" x2="381.2" y2="293.5" stroke="#ff2a2a" stroke-width="1.2" />
<line x1="379.1" y1="277.7" x2="383.3" y2="277.7" stroke="#ff2a2a" stroke-width="1.2" />
<line x1="379.1" y1="293.5" x2="383.3" y2="293.5" stroke="#ff2a2a" stroke-width="1.2" />
<rect x="45.9" y="281.5" width="6.6" height="6.6" fill="#0000ff"/>
<rect x="62.5" y="280.3" width="6.6" height="6.6" fill="#0000ff"/>
<rect x="79.1" y="279.3" width="6.6" height="6.6" fill="#0000ff"/>
<rect x="95.7" y="278.9" width="6.6" height="6.6" fill="#0000ff"/>
<rect x="112.3" y="278.2" width="6.6" height="6.6" fill="#0000ff"/>
<rect x="128.9" y="277.1" width="6.6" height="6.6" fill="#0000ff"/>
<rect x="145.5" y="276.8" width="6.6" height="6.6" fill="#0000ff"/>
<rect x="162.1" y="276.4" width="6.6" height="6.6" fill="#0000ff"/>
<rect x="178.7" y="274.9" width="6.6" height="6.6" fill="#0000ff"/>
<rect x="195.3" y="274.9" width="6.6" height="6.6" fill="#0000ff"/>
<rect x="211.9" y="274.2" width="6.6" height="6.6" fill="#0000ff"/>
<rect x="228.5" y="273.9" width="6.6" height="6.6" fill="#0000ff"/>
<rect x="245.1" y="273.9" width="6.6" height="6.6" fill="#0000ff"/>
<rect x="261.7" y="273.9" width="6.6" height="6.6" fill="#0000ff"/>
<rect x="278.3" y="272.9" width="6.6" height="6.6" fill="#0000ff"/>
<rect x="294.9" y="271.9" width="6.6" height="6.6" fill="#0000ff"/>
<rect x="311.5" y="271.2" width="6.6" height="6.6" fill="#0000ff"/>
<rect x="328.1" y="270.8" width="6.6" height="6.6" fill="#0000ff"/>
<rect x="344.7" y="270" width="6.6" height="6.6" fill="#0000ff"/>
<rect x="361.3" y="270" width="6.6" height="6.6" fill="#0000ff"/>
<rect x="377.9" y="269.4" width="6.6" height="6.6" fill="#0000ff"/>
<line x1="49.2" y1="276.9" x2="49.2" y2="292.7" stroke="#1010ff" stroke-width="1.2" />
<line x1="47.1" y1="276.9" x2="51.3" y2="276.9" stroke="#1010ff" stroke-width="1.2" />
<line x1="47.1" y1="292.7" x2="51.3" y2="292.7" stroke="#1010ff" stroke-width="1.2" />
<line x1="65.8" y1="275.7" x2="65.8" y2="291.5" stroke="#1010ff" stroke-width="1.2" />
<line x1="63.7" y1="275.7" x2="67.9" y2="275.7" stroke="#1010ff" stroke-width="1.2" />
<line x1="63.7" y1="291.5" x2="67.9" y2="291.5" stroke="#1010ff" stroke-width="1.2" />
<line x1="82.4" y1="274.7" x2="82.4" y2="290.5" stroke="#1010ff" stroke-width="1.2" />
<line x1="80.3" y1="274.7" x2="84.5" y2="274.7" stroke="#1010ff" stroke-width="1.2" />
<line x1="80.3" y1="290.5" x2="84.5" y2="290.5" stroke="#1010ff" stroke-width="1.2" />
<line x1="99" y1="274.3" x2="99" y2="290.1" stroke="#1010ff" stroke-width="1.2" />
<line x1="96.9" y1="274.3" x2="101.1" y2="274.3" stroke="#1010ff" stroke-width="1.2" />
<line x1="96.9" y1="290.1" x2="101.1" y2="290.1" stroke="#1010ff" stroke-width="1.2" />
<line x1="115.6" y1="273.6" x2="115.6" y2="289.4" stroke="#1010ff" stroke-width="1.2" />
<line x1="113.5" y1="273.6" x2="117.7" y2="273.6" stroke="#1010ff" stroke-width="1.2" />
<line x1="113.5" y1="289.4" x2="117.7" y2="289.4" stroke="#1010ff" stroke-width="1.2" />
<line x1="132.2" y1="272.5" x2="132.2" y2="288.3" stroke="#1010ff" stroke-width="1.2" />
<line x1="130.1" y1="272.5" x2="134.3" y2="272.5" stroke="#1010ff" stroke-width="1.2" />
<line x1="130.1" y1="288.3" x2="134.3" y2="288.3" stroke="#1010ff" stroke-width="1.2" />
<line x1="148.8" y1="272.2" x2="148.8" y2="288" stroke="#1010ff" stroke-width="1.2" />
<line x1="146.7" y1="272.2" x2="150.9" y2="272.2" stroke="#1010ff" stroke-width="1.2" />
<line x1="146.7" y1="288" x2="150.9" y2="288" stroke="#1010ff" stroke-width="1.2" />
<line x1="165.4" y1="271.8" x2="165.4" y2="287.6" stroke="#1010ff" stroke-width="1.2" />
<line x1="163.3" y1="271.8" x2="167.5" y2="271.8" stroke="#1010ff" stroke-width="1.2" />
<line x1="163.3" y1="287.6" x2="167.5" y2="287.6" stroke="#1010ff" stroke-width="1.2" />
<line x1="182" y1="270.3" x2="182" y2="286.1" stroke="#1010ff" stroke-width="1.2" />
<line x1="179.9" y1="270.3" x2="184.1" y2="270.3" stroke="#1010ff" stroke-width="1.2" />
<line x1="179.9" y1="286.1" x2="184.1" y2="286.1" stroke="#1010ff" stroke-width="1.2" />
<line x1="198.6" y1="270.3" x2="198.6" y2="286.1" stroke="#1010ff" stroke-width="1.2" />
<line x1="196.5" y1="270.3" x2="200.7" y2="270.3" stroke="#1010ff" stroke-width="1.2" />
<line x1="196.5" y1="286.1" x2="200.7" y2="286.1" stroke="#1010ff" stroke-width="1.2" />
<line x1="215.2" y1="269.6" x2="215.2" y2="285.4" stroke="#1010ff" stroke-width="1.2" />
<line x1="213.1" y1="269.6" x2="217.3" y2="269.6" stroke="#1010ff" stroke-width="1.2" />
<line x1="213.1" y1="285.4" x2="217.3" y2="285.4" stroke="#1010ff" stroke-width="1.2" />
<line x1="231.8" y1="269.3" x2="231.8" y2="285.1" stroke="#1010ff" stroke-width="1.2" />
<line x1="229.7" y1="269.3" x2="233.9" y2="269.3" stroke="#1010ff" stroke-width="1.2" />
<line x1="229.7" y1="285.1" x2="233.9" y2="285.1" stroke="#1010ff" stroke-width="1.2" />
<line x1="248.4" y1="269.3" x2="248.4" y2="285.1" stroke="#1010ff" stroke-width="1.2" />
<line x1="246.3" y1="269.3" x2="250.5" y2="269.3" stroke="#1010ff" stroke-width="1.2" />
<line x1="246.3" y1="285.1" x2="250.5" y2="285.1" stroke="#1010ff" stroke-width="1.2" />
<line x1="265" y1="269.3" x2="265" y2="285.1" stroke="#1010ff" stroke-width="1.2" />
<line x1="262.9" y1="269.3" x2="267.1" y2="269.3" stroke="#1010ff" stroke-width="1.2" />
<line x1="262.9" y1="285.1" x2="267.1" y2="285.1" stroke="#1010ff" stroke-width="1.2" />
<line x1="281.6" y1="268.3" x2="281.6" y2="284.1" stroke="#1010ff" stroke-width="1.2" />
<line x1="279.5" y1="268.3" x2="283.7" y2="268.3" stroke="#1010ff" stroke-width="1.2" />
<line x1="279.5" y1="284.1" x2="283.7" y2="284.1" stroke="#1010ff" stroke-width="1.2" />
<line x1="298.2" y1="267.3" x2="298.2" y2="283.1" stroke="#1010ff" stroke-width="1.2" />
<line x1="296.1" y1="267.3" x2="300.3" y2="267.3" stroke="#1010ff" stroke-width="1.2" />
<line x1="296.1" y1="283.1" x2="300.3" y2="283.1" stroke="#1010ff" stroke-width="1.2" />
<line x1="314.8" y1="266.6" x2="314.8" y2="282.4" stroke="#1010ff" stroke-width="1.2" />
<line x1="312.7" y1="266.6" x2="316.9" y2="266.6" stroke="#1010ff" stroke-width="1.2" />
<line x1="312.7" y1="282.4" x2="316.9" y2="282.4" stroke="#1010ff" stroke-width="1.2" />
<line x1="331.4" y1="266.2" x2="331.4" y2="282" stroke="#1010ff" stroke-width="1.2" />
<line x1="329.3" y1="266.2" x2="333.5" y2="266.2" stroke="#1010ff" stroke-width="1.2" />
<line x1="329.3" y1="282" x2="333.5" y2="282" stroke="#1010ff" stroke-width="1.2" />
<line x1="348" y1="265.4" x2="348" y2="281.2" stroke="#1010ff" stroke-width="1.2" />
<line x1="345.9" y1="265.4" x2="350.1" y2="265.4" stroke="#1010ff" stroke-width="1.2" />
<line x1="345.9" y1="281.2" x2="350.1" y2="281.2" stroke="#1010ff" stroke-width="1.2" />
<line x1="364.6" y1="265.4" x2="364.6" y2="281.2" stroke="#1010ff" stroke-width="1.2" />
<line x1="362.5" y1="265.4" x2="366.7" y2="265.4" stroke="#1010ff" stroke-width="1.2" />
<line x1="362.5" y1="281.2" x2="366.7" y2="281.2" stroke="#1010ff" stroke-width="1.2" />
<line x1="381.2" y1="264.8" x2="381.2" y2="280.6" stroke="#1010ff" stroke-width="1.2" />
<line x1="379.1" y1="264.8" x2="383.3" y2="264.8" stroke="#1010ff" stroke-width="1.2" />
<line x1="379.1" y1="280.6" x2="383.3" y2="280.6" stroke="#1010ff" stroke-width="1.2" />
<text x="330.8" y="313.6" font-size="11.1" text-anchor="start" font-weight="normal" fill="#ff1a1a" >99.68%</text>
<polyline fill="none" stroke="#ff1a1a" stroke-width="1.6" points="374.2,309.1 383.4,309.1 383.4,298"/>
<polygon fill="#ff1a1a" points="383.4,293.6 379.9,300.2 386.9,300.2"/>
<line x1="275.3" y1="406.7" x2="304.2" y2="406.7" stroke="#ff2020" stroke-width="1.1" />
<circle cx="289.8" cy="406.7" r="3.8" fill="url(#gRed)"/>
<line x1="275.3" y1="422.6" x2="304.2" y2="422.6" stroke="#2020ff" stroke-width="1.1" />
<rect x="286.4" y="419.2" width="6.8" height="6.8" fill="#0000ff"/>
<text x="308.9" y="411.1" font-size="11.25" text-anchor="start" font-weight="bold" fill="#111" >Capacitance</text>
<text x="308.9" y="426.9" font-size="11.25" text-anchor="start" font-weight="bold" fill="#111" >Potential</text>
<rect x="86.3" y="314.4" width="170.9" height="88.6" fill="#fff"/>
<line x1="86.3" y1="398.8" x2="89.3" y2="398.8" stroke="#3a3a3a" stroke-width="1.2" />
<line x1="86.3" y1="390.75" x2="88.1" y2="390.75" stroke="#3a3a3a" stroke-width="1.2" />
<line x1="86.3" y1="382.7" x2="89.3" y2="382.7" stroke="#3a3a3a" stroke-width="1.2" />
<line x1="86.3" y1="374.65" x2="88.1" y2="374.65" stroke="#3a3a3a" stroke-width="1.2" />
<line x1="86.3" y1="366.6" x2="89.3" y2="366.6" stroke="#3a3a3a" stroke-width="1.2" />
<line x1="86.3" y1="358.55" x2="88.1" y2="358.55" stroke="#3a3a3a" stroke-width="1.2" />
<line x1="86.3" y1="350.5" x2="89.3" y2="350.5" stroke="#3a3a3a" stroke-width="1.2" />
<line x1="86.3" y1="342.45" x2="88.1" y2="342.45" stroke="#3a3a3a" stroke-width="1.2" />
<line x1="86.3" y1="334.4" x2="89.3" y2="334.4" stroke="#3a3a3a" stroke-width="1.2" />
<line x1="86.3" y1="326.35" x2="88.1" y2="326.35" stroke="#3a3a3a" stroke-width="1.2" />
<line x1="86.3" y1="318.3" x2="89.3" y2="318.3" stroke="#3a3a3a" stroke-width="1.2" />
<line x1="86.3" y1="403" x2="86.3" y2="400" stroke="#3a3a3a" stroke-width="1.2" />
<line x1="107.66" y1="403" x2="107.66" y2="401.2" stroke="#3a3a3a" stroke-width="1.2" />
<line x1="129.02" y1="403" x2="129.02" y2="400" stroke="#3a3a3a" stroke-width="1.2" />
<line x1="150.39" y1="403" x2="150.39" y2="401.2" stroke="#3a3a3a" stroke-width="1.2" />
<line x1="171.75" y1="403" x2="171.75" y2="400" stroke="#3a3a3a" stroke-width="1.2" />
<line x1="193.11" y1="403" x2="193.11" y2="401.2" stroke="#3a3a3a" stroke-width="1.2" />
<line x1="214.47" y1="403" x2="214.47" y2="400" stroke="#3a3a3a" stroke-width="1.2" />
<line x1="235.84" y1="403" x2="235.84" y2="401.2" stroke="#3a3a3a" stroke-width="1.2" />
<line x1="257.2" y1="403" x2="257.2" y2="400" stroke="#3a3a3a" stroke-width="1.2" />
<polygon fill="#0000ff" points="86.3,358.2 257.2,353.0 257.2,361.5 86.3,367.0"/>
<path d="M86.3,314.4 L257.2,314.4 L257.2,403.0 L86.3,403.0" fill="none" stroke="#333" stroke-width="1.1"/>
<line x1="86.3" y1="313.9" x2="86.3" y2="403.5" stroke="#8a8a8a" stroke-width="1.6" />
<text transform="translate(81,402.9) scale(1,1.12)" font-size="9.4" text-anchor="end" font-weight="normal" fill="#111" >0.8</text>
<text transform="translate(81,386.8) scale(1,1.12)" font-size="9.4" text-anchor="end" font-weight="normal" fill="#111" >1.2</text>
<text transform="translate(81,370.7) scale(1,1.12)" font-size="9.4" text-anchor="end" font-weight="normal" fill="#111" >1.6</text>
<text transform="translate(81,354.6) scale(1,1.12)" font-size="9.4" text-anchor="end" font-weight="normal" fill="#111" >2.0</text>
<text transform="translate(81,338.5) scale(1,1.12)" font-size="9.4" text-anchor="end" font-weight="normal" fill="#111" >2.4</text>
<text transform="translate(81,322.4) scale(1,1.12)" font-size="9.4" text-anchor="end" font-weight="normal" fill="#111" >2.8</text>
<text transform="translate(86.3,416.5) scale(1,1.1)" font-size="9.4" text-anchor="middle" font-weight="normal" fill="#111" >0</text>
<text transform="translate(129.02,416.5) scale(1,1.1)" font-size="9.4" text-anchor="middle" font-weight="normal" fill="#111" >1000</text>
<text transform="translate(171.75,416.5) scale(1,1.1)" font-size="9.4" text-anchor="middle" font-weight="normal" fill="#111" >2000</text>
<text transform="translate(214.47,416.5) scale(1,1.1)" font-size="9.4" text-anchor="middle" font-weight="normal" fill="#111" >3000</text>
<text transform="translate(257.2,416.5) scale(1,1.1)" font-size="9.4" text-anchor="middle" font-weight="normal" fill="#111" >4000</text>
<text x="171.5" y="428.3" font-size="9.3" text-anchor="middle" font-weight="bold" fill="#111" >Time (s)</text>
<text transform="translate(59.4,358.6) rotate(-90)" font-size="9.4" font-weight="bold" text-anchor="middle" fill="#111">Potential (V)</text>
<text x="92.6" y="353.1" font-size="9.6" text-anchor="start" font-weight="bold" fill="#82307f" font-style="italic">Charging&#160; (1 s)</text>
<text x="92.6" y="380.1" font-size="9.6" text-anchor="start" font-weight="bold" fill="#82307f" font-style="italic">Discharging (1 s)</text>
<text x="254.4" y="329.4" font-size="9.45" font-weight="bold" text-anchor="end" fill="#111">J<tspan font-size="6.1" dy="1.8">APP</tspan><tspan dy="-1.8"> = 0.1 mA/g</tspan></text>
<text x="254.2" y="396.3" font-size="9.5" text-anchor="end" font-weight="bold" fill="#111" >2000 Cycles</text>
<text x="418.6" y="256.9" font-size="15.5" text-anchor="start" font-weight="bold" fill="#000" >d</text>
<rect x="430" y="252" width="255" height="205" fill="url(#gPhoto)"/>
<rect x="430" y="252" width="255" height="205" fill="url(#gPhoto2)"/>
<g filter="url(#fBlur)" opacity="0.55"><path d="M503,322 C515,318 530,313 546,309 L548,314 C535,319 520,324 506,327 Z" fill="#b8b6b4"/><path d="M558,317 C570,321 585,323 602,321 L602,326 C585,328 570,326 558,322 Z" fill="#c4c2c0"/></g>
<path d="M500,324 C478,328 460,342 451,358 C444,373 445,392 455,410 C462,422 470,430 480,436" fill="none" stroke="#bdbdbd" stroke-width="2" opacity="0.45" filter="url(#fBlur1)"/>
<path d="M505,317.4 C486,319 466,328 450,341.5 C440,351 436,364 435.8,378 C435.8,391 440.5,401 448.5,411.5 C456,421 466,431 480.5,438.3" fill="none" stroke="#bb6a1c" stroke-width="1.3"/>
<path d="M601.5,315.3 C610,322 616,328 622.7,335 C632,344.5 642,354 651,363.5 C658,371 665,378 670,385 C675,392 678,400 678.4,409.3 C678.7,417 677,421 674.1,424.8 C669,432 663,436 656.9,438.6 C649,441.5 641,442 634.5,442 C629,442 624,441.8 620.7,441.7" fill="none" stroke="#8e8a1c" stroke-width="1.3"/>
<path d="M620.7,441.7 C630,442.2 642,442 652,440" fill="none" stroke="#c9a82c" stroke-width="1.3"/>
<path d="M580,259 L585,260 L586,301 L580,301 Z" fill="#cfcccb" filter="url(#fBlur)" opacity="0.6"/>
<path d="M523,257.3 L578.4,257.6 L579.5,299.6 L523.5,299.8 Z" fill="#e8bac7"/>
<ellipse cx="555" cy="275.5" rx="29" ry="22.5" fill="url(#gGlow)"/>
<path d="M548.6,283.5 C548.2,279 549,272.5 550.3,269 C551.6,265.8 557.3,265.5 559.2,268.5 C560.6,271.5 561,278 560.8,283.5 Z" fill="#f4fff7"/>
<path d="M552,284 L551,300 L548,318 M555.5,284 L555,300 L552.5,318" stroke="#b0b0b0" stroke-width="0.8" fill="none"/>
<path d="M503.8,314.6 C507.5,312.2 510.8,310.4 513.8,308.9 C517,306.8 520,305 523.3,303.5 C526.8,302 530,301.2 533,300.6 C537,299.7 540,299.1 542.6,298.8 L546.4,299.5 L546.4,305.3 C542.5,306.5 540.3,308.2 538,309.8 C534.3,311.6 531.3,312.8 528.5,313.8 C525.3,314.9 522.3,315.9 519,316.6 C515.3,317.7 512.3,318.7 509.4,319.5 L506.3,320.2 Z" fill="#151515"/>
<path d="M529,307.7 L543.4,303.9" stroke="#6a6a6a" stroke-width="0.8"/>
<circle cx="521.6" cy="310.2" r="0.8" fill="#aaa"/>
<rect x="546" y="299.6" width="6" height="3.8" rx="1" fill="#b9b3a6"/>
<path d="M557.8,304.6 C560,303.8 562,303.3 564,303.2 L573.5,303.2 C578,303.5 582,304.1 584.8,304.8 C587,306 589,307.4 590.5,308.8 C593,310.2 596,311.4 598.1,311.9 L601.6,312.4 L601.6,318.4 L597.2,318.6 C594,319 591,319.3 587.7,319.3 C584,319.3 581,319.1 578.2,318.8 C575,318.3 572,317.6 568.7,316.9 C565.5,316 563,315 560.2,314 L557.8,313.8 Z" fill="#d61c1c"/>
<path d="M560.5,313.6 C566,315.6 574,317.6 584,318.5 C590,318.8 596,318.4 601.5,318.2" fill="none" stroke="#a81010" stroke-width="1"/>
<circle cx="576.8" cy="310.2" r="1" fill="#f2c8c8"/>
<rect x="551.6" y="304.6" width="6.4" height="4.4" rx="1" fill="#b9b3a6"/>
<path d="M544.5,356.9 L502.6,356.9 L502.6,392 L548.7,392 M553.8,392 L600.4,392 L600.4,356.9 L557.4,356.9" fill="none" stroke="#f6ae16" stroke-width="1.8"/>
<polygon points="545.2,356.8 557.4,347 557.4,366.7" fill="#8ad27a" stroke="#3f8e2f" stroke-width="1.6" stroke-linejoin="miter"/>
<line x1="544.5" y1="343.9" x2="544.5" y2="369.4" stroke="#3f8e2f" stroke-width="1.8" />
<g stroke="#14b04a" stroke-width="1.6" fill="#14b04a"><line x1="547" y1="342.5" x2="552.5" y2="333"/><polygon points="554.2,329.8 549.8,333.2 554.5,335.5"/><line x1="554.5" y1="342.5" x2="560" y2="333"/><polygon points="561.7,329.8 557.3,333.2 562,335.5"/></g>
<line x1="535.8" y1="350" x2="540.6" y2="350" stroke="#777" stroke-width="1.3" />
<line x1="561" y1="351" x2="569" y2="351" stroke="#777" stroke-width="1.3" />
<line x1="565" y1="347" x2="565" y2="355" stroke="#777" stroke-width="1.3" />
<line x1="548.7" y1="385.3" x2="548.7" y2="400.4" stroke="#1f1fff" stroke-width="2" />
<line x1="553.8" y1="385.3" x2="553.8" y2="400.4" stroke="#1f1fff" stroke-width="2" />
<text x="553.3" y="413.8" font-size="10.8" text-anchor="middle" font-weight="bold" fill="#111" >2.42 V</text>
<path d="M480.3,435.8 C483,435.3 486,434.8 488.1,434.5 C491,433.5 494,432.5 497.3,431.8 C501,431.5 504,431.5 507.9,431.6 L521,432.1 L530.8,432.5 L530.8,442.3 C529,442.6 527,442.8 525,443 C521,443.8 518,444.5 514.4,445 C511,445.7 508,446.3 505.2,446.3 C501,446 498,445.2 494.7,444.3 C491,443.5 488,442.8 485.5,442.3 L480.3,441.7 Z" fill="#d41c1c"/>
<path d="M480.3,439.7 L485.5,439.7" stroke="#f0d0d0" stroke-width="1"/>
<ellipse cx="503.9" cy="439" rx="1.6" ry="0.9" fill="#fbe8e8"/>
<rect x="530.8" y="433" width="8.6" height="6" fill="#a9a49c"/>
<rect x="535.4" y="424" width="25" height="19.7" fill="#eeece8" stroke="#b8b4ae" stroke-width="0.7"/>
<rect x="540.7" y="424.6" width="14.5" height="17.7" fill="#7a4c1e"/>
<rect x="542.5" y="427.5" width="11" height="12" fill="#5a3514"/>
<rect x="541" y="425" width="14" height="1.6" fill="#b07838"/>
<rect x="541" y="440.3" width="14" height="1.6" fill="#b07838"/>
<rect x="557.2" y="431.2" width="11.2" height="3.5" fill="#a9a49c"/>
<path d="M568.4,430.5 C571,430.2 573.5,430 576.3,429.9 C581,430 585,430.2 589.4,430.5 C593,431 597,431.8 600,432.5 C603,434 605.5,435.3 607.8,436.4 C612,437.6 616,438.6 621,439.4 L621,445.6 L609.1,445.6 L596,445.6 C591,445 587,444.4 582.9,443.7 C578.5,442.8 574.5,442 571,441 L568.4,439.7 Z" fill="#161616"/>
<path d="M571,435.8 C580,437 588,438.5 596,439.7" stroke="#d8d8d8" stroke-width="1" fill="none"/>
<path d="M605,441 L609,441" stroke="#888" stroke-width="0.8"/>
<text x="553.1" y="457.6" font-size="11.3" text-anchor="middle" font-weight="bold" fill="#1d3cf4" >PNaS20-SC</text>
</svg></body></html>
